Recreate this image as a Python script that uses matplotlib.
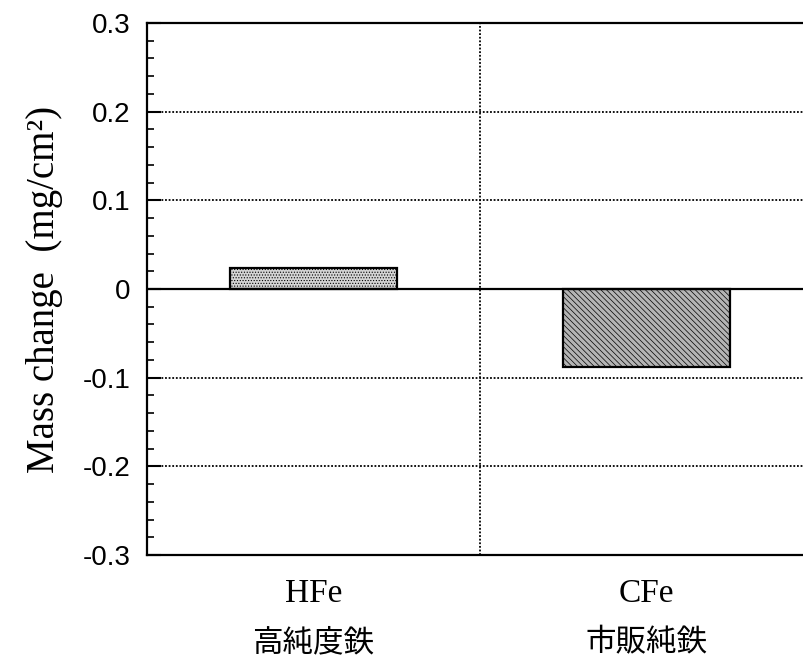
import matplotlib

matplotlib.use("Agg")
import matplotlib.pyplot as plt
from matplotlib.ticker import MultipleLocator

# values
categories = ["HFe", "CFe"]
names_ja = ["高純度鉄", "市販純鉄"]
mass_change = [0.024, -0.088]  # mg/cm^2
y_ticks = [-0.3, -0.2, -0.1, 0.0, 0.1, 0.2, 0.3]
y_labels = ["-0.3", "-0.2", "-0.1", "0", "0.1", "0.2", "0.3"]
grid_levels = [-0.2, -0.1, 0.1, 0.2]

plt.rcParams["hatch.linewidth"] = 0.5

fig = plt.figure(figsize=(8.04, 6.64), dpi=100)
# right edge sits a little past the canvas, as in the scanned original
ax = fig.add_axes([147 / 804, 109 / 664, 666 / 804, 532 / 664])

faces = ["#d4d4d4", "#b4b4b4"]
hatches = ["......", "\\\\\\\\\\\\"]
x = list(range(len(categories)))
bars = ax.bar(x, mass_change, width=0.5, color=faces, edgecolor="black",
              linewidth=1.6, zorder=3)
for b, h in zip(bars, hatches):
    b.set_hatch(h)

dotted = (0, (1, 1))
for lvl in grid_levels:
    ax.axhline(lvl, color="black", lw=1.3, ls=dotted, zorder=1)
ax.axvline(0.5, color="black", lw=1.3, ls=dotted, zorder=1)
ax.axhline(0, color="black", lw=1.6, zorder=4)

ax.set_xlim(-0.5, 1.5)
ax.set_ylim(-0.3, 0.3)
ax.set_yticks(y_ticks, y_labels, fontsize=20, family="Liberation Sans")
ax.yaxis.set_minor_locator(MultipleLocator(0.02))
ax.tick_params(axis="y", which="major", direction="in", length=10, width=1.5, pad=12)
ax.tick_params(axis="y", which="minor", direction="in", length=5, width=1.2)
ax.set_xticks(x, categories, fontsize=24, family="Liberation Serif")
ax.tick_params(axis="x", length=0, pad=17)

for xi, name in zip(x, names_ja):
    ax.annotate(name, (xi, 0), xycoords=ax.get_xaxis_transform(),
                xytext=(0, -63), textcoords="offset points",
                ha="center", va="center", fontsize=22,
                family=["Noto Sans CJK JP", "DejaVu Sans"])

for s in ax.spines.values():
    s.set_linewidth(1.6)

ax.set_ylabel("Mass change  (mg/cm²)", fontsize=28,
              family="Liberation Serif", labelpad=14)

fig.savefig("out.png", dpi=100)
